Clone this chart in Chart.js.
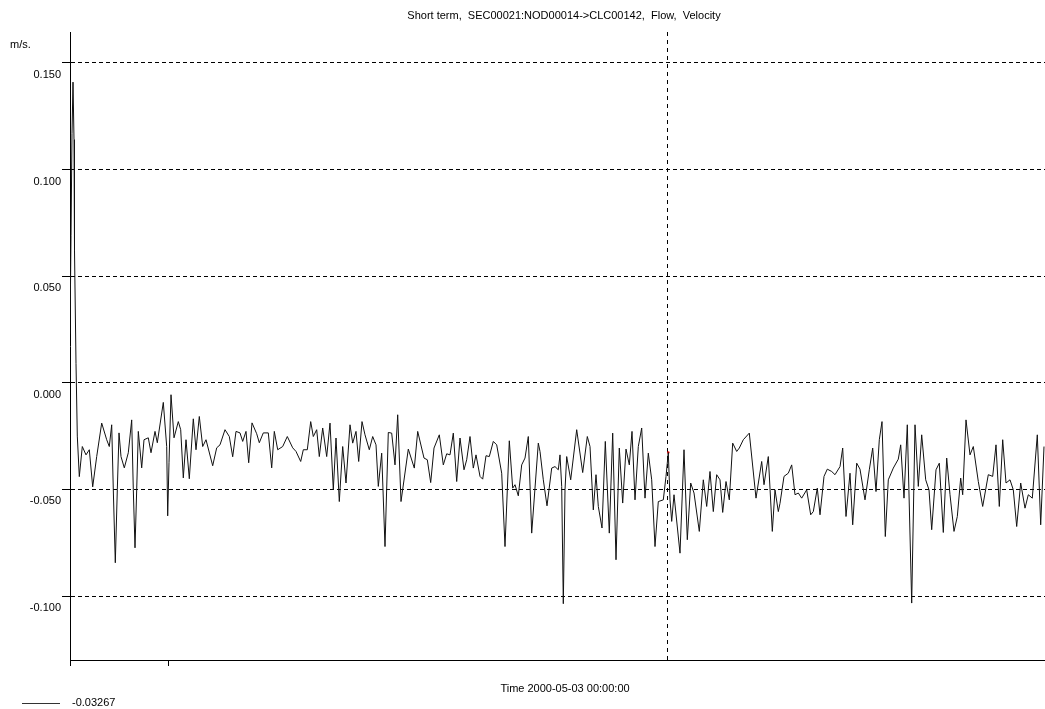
<!DOCTYPE html>
<html>
<head>
<meta charset="utf-8">
<title>Short term, SEC00021:NOD00014->CLC00142, Flow, Velocity</title>
<script src="https://cdn.jsdelivr.net/npm/chart.js@4/dist/chart.umd.min.js"></script>
<style>
  html, body { margin: 0; padding: 0; background: #fff; overflow: hidden; }
  canvas { display: block; }
</style>
</head>
<body>
<canvas id="myChart" width="1045" height="709"></canvas>
<script>
// time in hours from the start of the window, velocity in m/s
const hours = [
    0, 0.1, 0.2, 0.3, 0.4, 0.45, 0.6, 0.73, 0.93, 1.23,
    1.6, 1.93, 2.27, 2.67, 3.17, 3.67, 3.93, 4.17, 4.33, 4.53,
    4.73, 4.9, 5.1, 5.43, 5.83, 6.17, 6.33, 6.5, 6.67, 6.83,
    7.17, 7.4, 7.83, 8.1, 8.5, 8.73, 9.33, 9.67, 9.77, 9.9,
    10.1, 10.4, 10.83, 11.07, 11.33, 11.6, 11.93, 12.33, 12.6, 12.93,
    13.27, 13.6, 14.27, 14.67, 15.0, 15.5, 15.93, 16.27, 16.6, 17.0,
    17.27, 17.6, 17.87, 18.2, 18.67, 18.93, 19.33, 19.83, 20.17, 20.43,
    20.77, 21.27, 21.73, 22.27, 22.6, 23.07, 23.33, 23.73, 24.07, 24.33,
    24.67, 24.93, 25.27, 25.67, 26.0, 26.33, 26.6, 26.93, 27.27, 27.6,
    28.0, 28.27, 28.6, 28.87, 29.2, 29.5, 29.93, 30.27, 30.6, 30.83,
    31.17, 31.5, 31.83, 32.17, 32.5, 32.77, 33.1, 33.83, 34.43, 34.77,
    35.4, 35.73, 36.07, 36.4, 36.93, 37.33, 37.67, 38.0, 38.33, 38.67,
    39.0, 39.4, 39.67, 40.0, 40.33, 40.6, 41.0, 41.27, 41.6, 41.93,
    42.33, 42.67, 43.17, 43.5, 43.93, 44.27, 44.5, 44.83, 45.17, 45.5,
    45.83, 46.17, 46.83, 47.0, 47.33, 47.7, 48.17, 48.5, 48.83, 49.0,
    49.17, 49.33, 49.5, 49.67, 50.07, 50.67, 51.27, 51.73, 52.0, 52.33,
    52.6, 52.83, 53.2, 53.53, 53.93, 54.27, 54.6, 54.93, 55.27, 55.6,
    55.93, 56.2, 56.5, 56.83, 57.17, 57.5, 57.83, 58.17, 58.5, 58.83,
    59.33, 59.6, 59.83, 60.0, 60.17, 60.4, 61.0, 61.4, 61.73, 62.07,
    62.4, 62.93, 63.33, 63.67, 64.0, 64.33, 64.67, 65.0, 65.27, 65.6,
    65.93, 66.27, 66.67, 66.93, 67.33, 67.93, 68.6, 69.17, 69.4, 69.83,
    70.23, 70.5, 70.83, 71.0, 71.4, 71.83, 72.17, 72.5, 72.83, 73.17,
    73.67, 74.07, 74.33, 74.73, 75.0, 75.4, 75.73, 76.17, 76.5, 77.0,
    77.27, 77.6, 78.0, 78.27, 78.67, 79.0, 79.5, 79.93, 80.27, 80.6,
    80.93, 81.2, 81.53, 81.83, 82.33, 82.83, 83.07, 83.4, 83.73, 84.17,
    84.5, 84.83, 85.17, 85.57, 85.9, 86.17, 86.6, 86.93, 87.33, 87.67,
    88.0, 88.4, 88.73, 89.07, 89.27, 89.6, 90.0, 90.33, 90.83, 91.27,
    91.83, 92.27, 92.6, 92.93, 93.27, 93.6, 94.0, 94.33, 94.67, 95.07,
    95.5, 95.83, 96.23, 96.73, 97.07, 97.4
];
const velocity = [
    0.023, 0.069, 0.117, 0.141, 0.114, 0.062, 0.009, -0.025, -0.044, -0.0299,
    -0.0338, -0.0314, -0.0488, -0.0346, -0.0189, -0.0267, -0.0299, -0.0197, -0.0502, -0.0844,
    -0.0502, -0.0235, -0.0346, -0.0399, -0.0328, -0.0174, -0.0502, -0.0774, -0.0502, -0.0228,
    -0.0399, -0.0267, -0.0258, -0.0328, -0.0228, -0.0281, -0.0092, -0.0299, -0.0624, -0.0375,
    -0.0056, -0.0258, -0.0182, -0.022, -0.0446, -0.0267, -0.045, -0.0169, -0.0314, -0.0158,
    -0.0299, -0.0267, -0.0389, -0.0305, -0.0291, -0.022, -0.0252, -0.0347, -0.0228, -0.0235,
    -0.0275, -0.0228, -0.0375, -0.0188, -0.0239, -0.0281, -0.0235, -0.0235, -0.0399, -0.0228,
    -0.0314, -0.0299, -0.0252, -0.0305, -0.0322, -0.0369, -0.0314, -0.0314, -0.0182, -0.0252,
    -0.022, -0.0346, -0.0212, -0.0346, -0.0189, -0.0502, -0.0259, -0.0557, -0.0299, -0.047,
    -0.0197, -0.0283, -0.0228, -0.0369, -0.0182, -0.0244, -0.0314, -0.0252, -0.0291, -0.0486,
    -0.033, -0.0768, -0.0233, -0.0236, -0.0385, -0.015, -0.0557, -0.0311, -0.04, -0.0228,
    -0.0353, -0.0361, -0.0468, -0.0306, -0.0244, -0.0385, -0.0333, -0.0338, -0.0236, -0.0463,
    -0.0259, -0.0408, -0.0361, -0.0252, -0.04, -0.0338, -0.0439, -0.0452, -0.0342, -0.0346,
    -0.0275, -0.0291, -0.0424, -0.0768, -0.0272, -0.0494, -0.0478, -0.053, -0.0385, -0.0353,
    -0.0252, -0.0705, -0.0283, -0.0322, -0.0455, -0.0577, -0.04, -0.0393, -0.0408, -0.0338,
    -0.0486, -0.1036, -0.0502, -0.0346, -0.0455, -0.022, -0.0421, -0.0252, -0.0299, -0.0596,
    -0.0431, -0.058, -0.0681, -0.0275, -0.0705, -0.0236, -0.083, -0.0306, -0.0564, -0.0311,
    -0.0385, -0.0228, -0.0549, -0.0299, -0.0212, -0.0541, -0.033, -0.0455, -0.0768, -0.0557,
    -0.0549, -0.0439, -0.0327, -0.0549, -0.065, -0.0525, -0.0799, -0.0314, -0.0736, -0.047,
    -0.0517, -0.0697, -0.0455, -0.058, -0.0416, -0.0604, -0.0431, -0.0455, -0.0608, -0.0463,
    -0.0549, -0.0283, -0.0322, -0.0306, -0.0267, -0.0236, -0.0541, -0.0369, -0.0478, -0.0346,
    -0.0697, -0.0502, -0.0604, -0.0565, -0.0439, -0.0424, -0.0385, -0.0525, -0.0517, -0.0541,
    -0.0502, -0.0619, -0.0604, -0.0494, -0.0619, -0.0439, -0.0405, -0.0416, -0.0431, -0.0393,
    -0.0306, -0.0627, -0.0424, -0.0666, -0.0377, -0.0405, -0.0549, -0.0408, -0.0306, -0.051,
    -0.0267, -0.0182, -0.0721, -0.0455, -0.04, -0.0358, -0.0291, -0.0541, -0.0197, -0.1033,
    -0.0197, -0.0486, -0.0244, -0.0455, -0.0502, -0.0689, -0.0408, -0.0377, -0.0702, -0.0353,
    -0.0525, -0.0697, -0.0627, -0.0447, -0.0525, -0.0174, -0.0338, -0.0299, -0.0463, -0.058,
    -0.0431, -0.0439, -0.0291, -0.058, -0.0267, -0.047, -0.0455, -0.0502, -0.0674, -0.047,
    -0.0588, -0.0525, -0.0541, -0.0244, -0.0666, -0.0299
];

const yTicks = [-0.100, -0.050, 0.000, 0.050, 0.100, 0.150];
const xTickHours = [0, 9.8];        // the two small marks under the time axis
const cursorHour = 59.7;           // 2000-05-03 00:00:00
const cursorSample = 182;          // sample under the cursor
const cursorLabel = '-0.03267';

const titleText = 'Short term,  SEC00021:NOD00014->CLC00142,  Flow,  Velocity';
const unitText = 'm/s.';
const timeText = 'Time 2000-05-03 00:00:00';

const FONT = '11px "Liberation Sans", Arial, sans-serif';

const points = hours.map((h, i) => ({ x: h, y: velocity[i] }));
const cursorPoint = [{ x: hours[cursorSample], y: velocity[cursorSample] }];

const textPlugin = {
    id: 'texts',
    afterDraw(chart) {
        const ctx = chart.ctx;
        ctx.save();
        ctx.font = FONT;
        ctx.fillStyle = '#000';
        ctx.textBaseline = 'middle';

        ctx.textAlign = 'center';
        ctx.fillText(titleText, 564, 16);
        ctx.fillText(timeText, 565, 689);

        ctx.textAlign = 'left';
        ctx.fillText(unitText, 10, 45);

        // legend
        ctx.strokeStyle = '#333';
        ctx.lineWidth = 1;
        ctx.beginPath();
        ctx.moveTo(22, 703.5);
        ctx.lineTo(60, 703.5);
        ctx.stroke();
        ctx.fillText(cursorLabel, 72, 703);
        ctx.restore();
    }
};

document.addEventListener('DOMContentLoaded', function() {
    const ctx = document.getElementById('myChart').getContext('2d');
    new Chart(ctx, {
        type: 'line',
        data: {
            datasets: [{
                label: cursorLabel,
                data: points,
                borderColor: '#111',
                borderWidth: 1,
                pointRadius: 0,
                tension: 0,
                fill: false
            }, {
                label: 'cursor',
                data: cursorPoint,
                showLine: false,
                pointRadius: 1.2,
                pointBackgroundColor: '#ff0000',
                pointBorderWidth: 0
            }]
        },
        options: {
            responsive: false,
            maintainAspectRatio: false,
            animation: false,
            layout: { autoPadding: false, padding: { top: 32, left: 0, right: 0, bottom: 0 } },
            plugins: {
                legend: { display: false },
                title: { display: false },
                tooltip: { enabled: false }
            },
            scales: {
                x: {
                    type: 'linear',
                    min: 0,
                    max: 97.5,
                    afterBuildTicks: function(scale) {
                        scale.ticks = xTickHours.concat([cursorHour]).map(v => ({ value: v }));
                    },
                    afterFit: function(scale) {
                        scale.height = 49;
                        scale.paddingLeft = 0;
                        scale.paddingRight = 0;
                    },
                    ticks: { display: false },
                    grid: {
                        color: c => (c.tick && c.tick.value === cursorHour) ? '#000' : 'rgba(0,0,0,0)',
                        tickColor: c => (c.tick && c.tick.value === cursorHour) ? 'rgba(0,0,0,0)' : '#000',
                        tickLength: 6,
                        lineWidth: 1
                    },
                    border: { display: true, color: '#000', width: 1, dash: [4, 4] }
                },
                y: {
                    type: 'linear',
                    min: -0.13,
                    max: 0.1645,
                    afterBuildTicks: function(scale) {
                        scale.ticks = yTicks.map(v => ({ value: v }));
                    },
                    afterFit: function(scale) {
                        scale.width = 70;
                        scale.paddingTop = 0;
                        scale.paddingBottom = 0;
                    },
                    ticks: {
                        color: '#000',
                        font: { family: '"Liberation Sans", Arial, sans-serif', size: 11 },
                        padding: 1,
                        labelOffset: 12,
                        callback: v => v.toFixed(3)
                    },
                    grid: {
                        color: '#000',
                        tickColor: '#000',
                        tickLength: 8,
                        lineWidth: 1
                    },
                    border: { display: true, color: '#000', width: 1, dash: [4, 3] }
                }
            }
        },
        plugins: [textPlugin]
    });
});
</script>
</body>
</html>
